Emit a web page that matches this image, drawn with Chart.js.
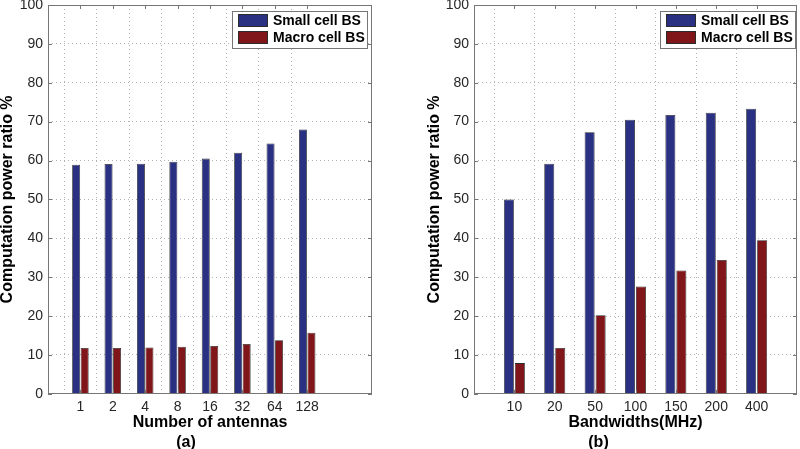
<!DOCTYPE html>
<html><head><meta charset="utf-8">
<script src="https://cdn.jsdelivr.net/npm/chart.js@4.4.1/dist/chart.umd.min.js"></script>
<style>
html,body{margin:0;padding:0;background:#fff;}
#wrap{position:relative;width:800px;height:449px;overflow:hidden;}
.box{position:absolute;top:0;width:400px;height:449px;}
</style></head><body>
<div id="wrap">
<div class="box" style="left:0"><canvas id="c1" width="400" height="449"></canvas></div>
<div class="box" style="left:400px"><canvas id="c2" width="400" height="449"></canvas></div>
</div>
<script>
// ---- data ----
const antennaLabels = ['1','2','4','8','16','32','64','128'];
const antennaSmall  = [58.9, 59.1, 59.2, 59.7, 60.5, 62.0, 64.4, 68.0];
const antennaMacro  = [11.8, 11.8, 11.9, 12.1, 12.3, 12.8, 13.8, 15.7];
const bwLabels = ['10','20','50','100','150','200','400'];
const bwSmall  = [50.0, 59.2, 67.3, 70.5, 71.7, 72.3, 73.3];
const bwMacro  = [7.9, 11.8, 20.2, 27.6, 31.7, 34.4, 39.5];
const seriesNames = ['Small cell BS', 'Macro cell BS'];
const yMin = 0, yMax = 100, yStep = 10;

// ---- style ----
const F = "'Liberation Sans', Arial, Helvetica, sans-serif";
const BLUE = '#2a3183', RED = '#80161a', EDGE = '#2b2b2b';
const GRID = '#b4b4b4', FRAME = '#767676', TXT = '#262626';

function padded(labels, before, after) {
  return [...Array(before).fill(''), ...labels, ...Array(after).fill('')];
}
function paddedData(vals, before, after) {
  return [...Array(before).fill(null), ...vals, ...Array(after).fill(null)];
}

const framePlugin = {
  id: 'frame',
  afterDatasetsDraw(chart, args, opts) {
    const {ctx, chartArea: a, scales: {x, y}} = chart;
    ctx.save();
    ctx.strokeStyle = FRAME; ctx.lineWidth = 1;
    ctx.strokeRect(Math.round(a.left) + 0.5, Math.round(a.top) + 0.5,
                   Math.round(a.right - a.left) - 1, Math.round(a.bottom - a.top) - 1);
    ctx.beginPath();
    y.ticks.forEach((t, i) => {
      const py = Math.round(y.getPixelForTick(i)) + 0.5;
      ctx.moveTo(a.left, py); ctx.lineTo(a.left + 4, py);
      ctx.moveTo(a.right, py); ctx.lineTo(a.right - 4, py);
    });
    const labs = x.getLabels();
    x.ticks.forEach((t, i) => {
      if (!labs[i]) return;
      const px = Math.round(x.getPixelForTick(i)) + 0.5;
      ctx.moveTo(px, a.bottom); ctx.lineTo(px, a.bottom - 4);
      ctx.moveTo(px, a.top); ctx.lineTo(px, a.top + 4);
    });
    ctx.stroke();
    // legend box
    const bw = 135, bh = 37;
    const bx = Math.round(a.right - opts.marginRight - bw), by = Math.round(a.top + 6);
    ctx.fillStyle = '#fff';
    ctx.fillRect(bx, by, bw, bh);
    ctx.strokeRect(bx + 0.5, by + 0.5, bw, bh);
    const rows = [by + 9.5, by + 26.5];
    chart.data.datasets.forEach((ds, i) => {
      ctx.fillStyle = ds.backgroundColor;
      ctx.fillRect(bx + 6, rows[i] - 6.5, 30, 13);
      ctx.strokeStyle = EDGE;
      ctx.strokeRect(bx + 6.5, rows[i] - 6, 29, 12);
      ctx.fillStyle = '#000';
      ctx.font = "bold 14px " + F;
      ctx.textBaseline = 'middle';
      ctx.textAlign = 'left';
      ctx.fillText(ds.label, bx + 41, rows[i] + 0.5);
    });
    ctx.restore();
  }
};

function makeChart(id, labels, small, macro, before, after, opts) {
  const cats = padded(labels, before, after);
  const n = labels.length;
  return new Chart(document.getElementById(id), {
    type: 'bar',
    data: {
      labels: cats,
      datasets: [
        {label: seriesNames[0], data: paddedData(small, before, after), backgroundColor: BLUE,
         borderColor: EDGE, borderWidth: 0.8, categoryPercentage: opts.catPct, barPercentage: opts.barPct},
        {label: seriesNames[1], data: paddedData(macro, before, after), backgroundColor: RED,
         borderColor: EDGE, borderWidth: 0.8, categoryPercentage: opts.catPct, barPercentage: opts.barPct}
      ]
    },
    options: {
      responsive: false,
      animation: false,
      events: [],
      layout: {padding: {left: 0, right: opts.padRight, top: 5, bottom: 0}},
      plugins: {
        legend: {display: false},
        tooltip: {enabled: false},
        title: {display: true, position: 'bottom', text: opts.sub, color: '#000',
                font: {family: F, size: 16, weight: 'bold', lineHeight: 1.2}, padding: {top: 3, bottom: -3}},
        frame: {marginRight: opts.legendMargin}
      },
      scales: {
        x: {
          type: 'category', offset: false,
          ticks: {autoSkip: false, maxRotation: 0, minRotation: 0, padding: 5, color: TXT,
                  font: {family: F, size: 14}, callback: (v, i) => cats[i]},
          grid: {color: c => (c.index >= before && c.index < before + n) ? GRID : 'rgba(0,0,0,0)',
                 drawTicks: false, lineWidth: 1},
          border: {display: false, dash: [1, 3]},
          title: {display: true, text: opts.xTitle, color: '#000',
                  font: {family: F, size: 16, weight: 'bold', lineHeight: 1.2}, padding: {top: 0, bottom: -2}},
          afterFit(s) { s.height = 36; s.paddingLeft = 0; s.paddingRight = 0; }
        },
        y: {
          min: yMin, max: yMax,
          ticks: {stepSize: yStep, padding: 5, color: TXT, font: {family: F, size: 14}},
          grid: {color: GRID, drawTicks: false, lineWidth: 1},
          border: {display: false, dash: [1, 3]},
          title: {display: true, text: 'Computation power ratio %', color: '#000',
                  font: {family: F, size: 16, weight: 'bold', lineHeight: 1}, padding: {top: opts.yTitlePad, bottom: 0}},
          afterFit(s) { s.width = opts.yWidth; s.paddingTop = 0; s.paddingBottom = 0; }
        }
      }
    },
    plugins: [framePlugin]
  });
}

makeChart('c1', antennaLabels, antennaSmall, antennaMacro, 1, 2,
  {catPct: 0.525, barPct: 0.94, padRight: 28, yWidth: 48, yTitlePad: 0, legendMargin: 5,
   xTitle: 'Number of antennas', sub: '(a)'});
makeChart('c2', bwLabels, bwSmall, bwMacro, 1, 1,
  {catPct: 0.545, barPct: 0.91, padRight: 3, yWidth: 74, yTitlePad: 27, legendMargin: 2,
   xTitle: 'Bandwidths(MHz)', sub: '(b)'});
</script>
</body></html>
